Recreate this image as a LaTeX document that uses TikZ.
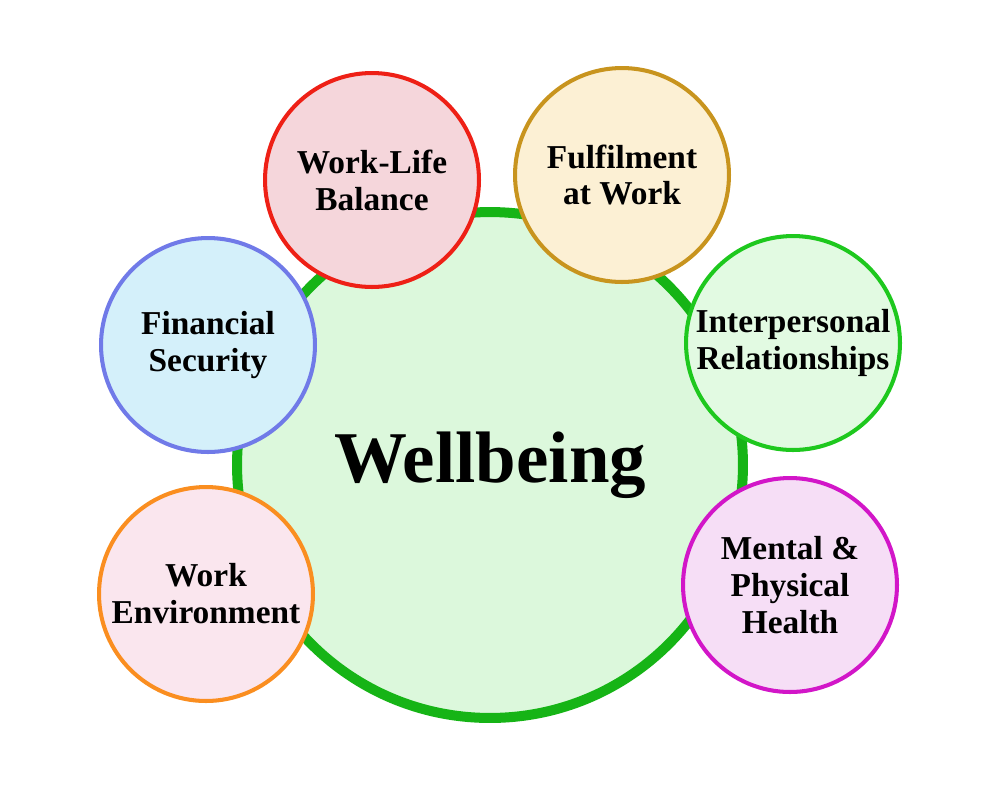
\documentclass[tikz,border=0pt]{standalone}
\usepackage{fontspec}
\setmainfont{Liberation Serif}
\usepackage{tikz}

\definecolor{hubgreen}{RGB}{22,180,22}
\definecolor{hubfill}{RGB}{220,248,220}
\definecolor{wlbline}{RGB}{238,32,22}
\definecolor{wlbfill}{RGB}{245,214,219}
\definecolor{fawline}{RGB}{200,148,30}
\definecolor{fawfill}{RGB}{252,240,212}
\definecolor{finline}{RGB}{112,122,232}
\definecolor{finfill}{RGB}{212,240,250}
\definecolor{iprline}{RGB}{30,200,30}
\definecolor{iprfill}{RGB}{226,250,226}
\definecolor{envline}{RGB}{250,142,32}
\definecolor{envfill}{RGB}{250,230,238}
\definecolor{mphline}{RGB}{210,22,200}
\definecolor{mphfill}{RGB}{246,222,246}

\begin{document}
\begin{tikzpicture}[x=0.02cm, y=-0.02cm,
    hub/.style={circle, draw=hubgreen, fill=hubfill, line width=5.7pt,
                minimum size=10.12cm, inner sep=0pt,
                font=\fontsize{41.5}{46}\selectfont\bfseries},
    topic/.style={circle, line width=2.3pt, minimum size=4.28cm, inner sep=0pt,
                  align=center, font=\fontsize{19}{21}\selectfont\bfseries}]
    % Fix the page to the size of the picture
    \useasboundingbox (0,0) rectangle (1000,806);
    \fill[white] (0,0) rectangle (1000,806);

    % Draw the big central circle
    \node[hub] (wellbeing) at (490,465) {Wellbeing};

    % Draw the six small circles round it
    \node[topic, draw=wlbline, fill=wlbfill] (worklife) at (372,180) {Work-Life\\Balance};
    \node[topic, draw=fawline, fill=fawfill] (fulfilment) at (622,175) {Fulfilment\\at Work};
    \node[topic, draw=finline, fill=finfill] (financial) at (208,345) {Financial\\Security};
    \node[topic, draw=iprline, fill=iprfill] (interpersonal) at (793,343) {Interpersonal\\Relationships};
    \node[topic, draw=envline, fill=envfill] (environment) at (206,594) {Work\\Environment};
    \node[topic, draw=mphline, fill=mphfill] (health) at (790,585) {Mental \&\\Physical\\Health};
\end{tikzpicture}
\end{document}
